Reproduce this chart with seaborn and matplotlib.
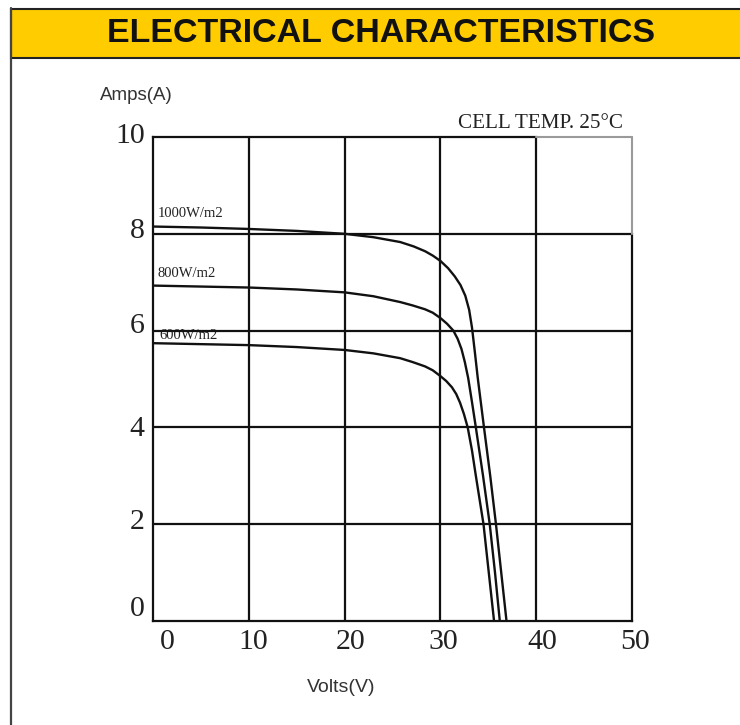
import matplotlib
matplotlib.use("Agg")
import matplotlib.pyplot as plt
from matplotlib.patches import Rectangle
from matplotlib.lines import Line2D
from matplotlib.transforms import ScaledTranslation
import seaborn as sns
import pandas as pd

# ---------------- data ----------------
v_1000 = [0, 5, 10, 15, 20, 23, 25.8, 27.2, 28.4, 29.2, 30, 30.8, 31.5, 32.1, 32.6, 33.0, 33.3,
          33.6, 33.9, 34.55, 35.2, 35.8, 36.35, 36.9]
i_1000 = [8.15, 8.13, 8.10, 8.06, 8.00, 7.93, 7.83, 7.74, 7.64, 7.55, 7.44, 7.29, 7.12, 6.94, 6.72, 6.43, 6.06,
          5.55, 5.02, 4.00, 3.00, 2.00, 1.00, 0.0]

v_800 = [0, 5, 10, 15, 20, 23, 25.8, 27.1, 28.4, 29.2, 30, 30.7, 31.35, 31.8, 32.2, 32.55, 32.9,
         33.3, 33.7, 34.45, 35.15, 35.7, 36.2]
i_800 = [6.93, 6.91, 6.89, 6.85, 6.79, 6.71, 6.59, 6.52, 6.44, 6.37, 6.26, 6.14, 6.00, 5.83, 5.62, 5.35, 5.02,
         4.52, 4.00, 3.00, 2.00, 1.00, 0.0]

v_600 = [0, 5, 10, 15, 20, 23, 25.8, 27.1, 28.4, 29.2, 30, 30.6, 31.2, 31.65, 32.05, 32.45, 32.85,
         33.3, 33.7, 34.5, 35.05, 35.6]
i_600 = [5.74, 5.72, 5.70, 5.66, 5.60, 5.53, 5.43, 5.35, 5.26, 5.18, 5.06, 4.96, 4.83, 4.69, 4.51, 4.28, 4.00,
         3.52, 3.00, 2.00, 1.00, 0.0]

curve_labels = ["1000W/m2", "800W/m2", "600W/m2"]
x_ticks = [0, 10, 20, 30, 40, 50]
y_ticks = [0, 2, 4, 6, 8, 10]
title_text = "ELECTRICAL CHARACTERISTICS"
temp_text = "CELL TEMP. 25°C"
x_label = "Volts(V)"
y_label = "Amps(A)"

# ---------------- build long table ----------------
frames = []
for name, vs, iv in zip(curve_labels, [v_1000, v_800, v_600], [i_1000, i_800, i_600]):
    frames.append(pd.DataFrame({"V": vs, "I": iv, "irr": name}))
df = pd.concat(frames, ignore_index=True)

sns.set_style("white")
plt.rcParams["font.family"] = ["Liberation Serif", "DejaVu Serif"]

W, H = 740, 725
fig = plt.figure(figsize=(W / 100, H / 100), dpi=100)
fig.patch.set_facecolor("white")

def fx(px):
    return px / W

def fy(py):
    return 1 - py / H

ax = fig.add_axes([fx(153), fy(621), fx(632) - fx(153), fy(137) - fy(621)])

sns.lineplot(data=df, x="V", y="I", hue="irr", palette=["#111111"] * 3,
             legend=False, sort=False, estimator=None, linewidth=1.7, ax=ax, zorder=3)
for ln in ax.get_lines():
    ln.set_solid_joinstyle("round")

ax.set_xlim(0, 50)
ax.set_ylim(0, 10)
ax.set_xlabel("")
ax.set_ylabel("")

ax.set_xticks(x_ticks)
ax.set_yticks(y_ticks)
ax.set_xticklabels([str(t) for t in x_ticks])
ax.set_yticklabels([str(t) for t in y_ticks])
ax.grid(False)
ax.tick_params(which="both", length=0)
ax.tick_params(axis="both", which="major", labelsize=21.5, labelcolor="#222222")
ax.tick_params(axis="x", pad=6)
ax.tick_params(axis="y", pad=6)

# inner grid lines at the inner tick positions
for xv in x_ticks[1:-1]:
    ax.axvline(xv, color="#111111", linewidth=1.6, zorder=2)
for yv in y_ticks[1:-1]:
    ax.axhline(yv, color="#111111", linewidth=1.6, zorder=2)

for s in ["left", "bottom", "top", "right"]:
    ax.spines[s].set_color("#111111")
    ax.spines[s].set_linewidth(1.6)
ax.spines["top"].set_bounds(0, 40)
ax.spines["right"].set_bounds(0, 8)
ax.axhline(10, xmin=0.8, xmax=1.0, color="#9a9a9a", linewidth=1.5, clip_on=False, zorder=4)
ax.axvline(50, ymin=0.8, ymax=1.0, color="#9a9a9a", linewidth=1.5, clip_on=False, zorder=4)

# individual tick-label nudges (pixels)
x_shift = [14, 4, 6, 3, 6, 3]
y_shift = [15, 5, 1, 8, 6, 4]
for lab, dx in zip(ax.get_xticklabels(), x_shift):
    lab.set_transform(lab.get_transform() + ScaledTranslation(dx / 100, 0, fig.dpi_scale_trans))
for lab, dy in zip(ax.get_yticklabels(), y_shift):
    lab.set_transform(lab.get_transform() + ScaledTranslation(0, dy / 100, fig.dpi_scale_trans))

# curve labels
label_pos = [(0.5, 8.41), (0.5, 7.17), (0.7, 5.89)]
for name, (lx, ly) in zip(curve_labels, label_pos):
    ax.text(lx, ly, name, fontsize=10.5, ha="left", va="center", color="#222222",
            family=["Liberation Serif"], zorder=1)

# figure decorations
fig.add_artist(Rectangle((fx(11), fy(58)), 1.02 - fx(11), fy(9) - fy(58),
                         transform=fig.transFigure, facecolor="#FFCC00",
                         edgecolor="#222222", linewidth=1.5, zorder=2))
fig.add_artist(Line2D([fx(11), fx(11)], [0, fy(8)], transform=fig.transFigure,
                      color="#444444", linewidth=1.6, zorder=3))
fig.text(fx(381), fy(33), title_text, ha="center", va="center", fontsize=24.5,
         fontweight="bold", family=["Liberation Sans", "DejaVu Sans"], color="#111111", zorder=4)
fig.text(fx(136), fy(95), y_label, ha="center", va="center", fontsize=13.5,
         family=["Liberation Sans", "DejaVu Sans"], color="#333333")
fig.text(fx(341), fy(688), x_label, ha="center", va="center", fontsize=14,
         family=["Liberation Sans", "DejaVu Sans"], color="#333333")
fig.text(fx(623), fy(123), temp_text, ha="right", va="center", fontsize=15.2,
         family=["Liberation Serif", "DejaVu Serif"], color="#222222")

fig.savefig("out.png", dpi=100)
